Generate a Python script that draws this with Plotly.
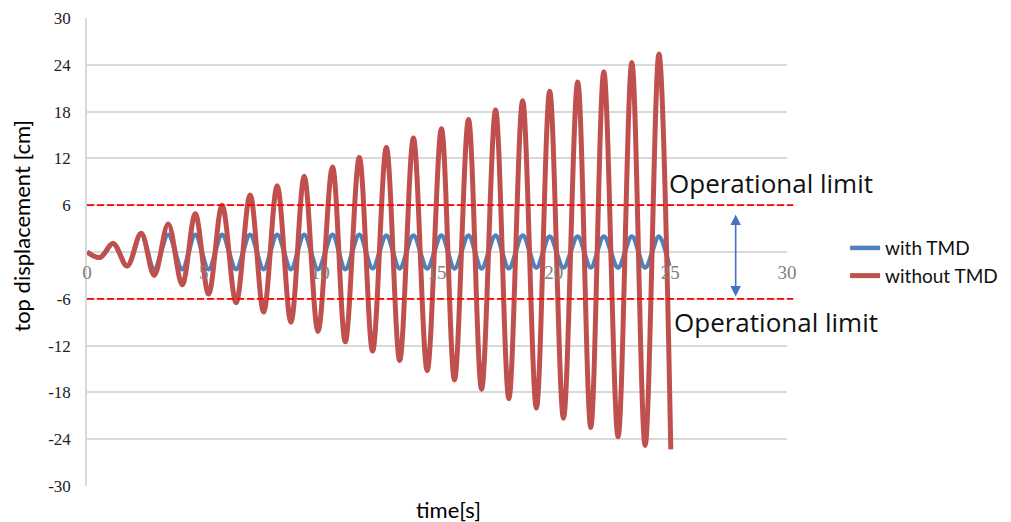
import plotly.graph_objects as go

# ---- data ----
time_s = [0.00, 0.56, 1.12, 1.72, 2.32, 2.88, 3.48, 4.08, 4.64, 5.21, 5.79, 6.39,
          6.99, 7.57, 8.15, 8.74, 9.31, 9.90, 10.52, 11.07, 11.67, 12.24, 12.83,
          13.40, 13.99, 14.58, 15.19, 15.75, 16.35, 16.91, 17.51, 18.08, 18.67,
          19.26, 19.83, 20.42, 21.03, 21.59, 22.15, 22.76, 23.35, 23.92, 24.51, 25.02]

without_tmd = [0.0, -0.7, 1.1, -1.8, 2.4, -3.0, 3.6, -4.2, 4.9, -5.4, 6.0, -6.5,
               7.3, -7.7, 8.5, -9.0, 9.7, -10.2, 10.9, -11.5, 12.1, -12.7, 13.4,
               -13.9, 14.6, -15.2, 15.8, -16.4, 17.0, -17.6, 18.2, -18.8, 19.4,
               -20.0, 20.6, -21.3, 21.8, -22.5, 23.1, -23.7, 24.3, -24.8, 25.4, -25.3]

time_tmd = [0.00, 0.56, 1.12, 1.72, 2.32, 2.88, 3.48, 4.08, 4.64, 5.21, 5.79, 6.39,
            6.99, 7.57, 8.15, 8.74, 9.31, 9.90, 10.52, 11.07, 11.67, 12.24, 12.83,
            13.40, 13.99, 14.58, 15.19, 15.75, 16.35, 16.91, 17.51, 18.08, 18.67,
            19.26, 19.83, 20.42, 21.03, 21.59, 22.15, 22.76, 23.35, 23.92, 24.51, 24.95]

with_tmd = [0.0, -0.7, 1.1, -1.8, 2.3, -2.2, 2.2, -2.2, 2.2, -2.2, 2.2, -2.2,
            2.2, -2.2, 2.2, -2.2, 2.2, -2.2, 2.2, -2.2, 2.2, -2.1, 2.1, -2.1,
            2.1, -2.1, 2.1, -2.1, 2.1, -2.1, 2.1, -2.1, 2.1, -2.0, 2.0, -2.0,
            2.0, -2.0, 2.0, -2.0, 2.0, -2.0, 2.0, -1.8]

operational_limit = 6

y_tick_vals = [30, 24, 18, 12, 6, 0, -6, -12, -18, -24, -30]
y_tick_text = ["30", "24", "18", "12", "6", "", "-6", "-12", "-18", "-24", "-30"]
x_tick_vals = [0, 5, 10, 15, 20, 25, 30]
x_tick_text = ["0", "5", "10", "15", "20", "25", "30"]

BLUE = "#4F81BD"
RED = "#C0504D"
SANS = "Lato, Liberation Sans, sans-serif"

fig = go.Figure()
fig.add_trace(go.Scatter(x=time_tmd, y=with_tmd, mode="lines", name="with TMD",
                         line=dict(color=BLUE, width=4.5, shape="spline", smoothing=1.0)))
fig.add_trace(go.Scatter(x=time_s, y=without_tmd, mode="lines", name="without TMD",
                         line=dict(color=RED, width=5, shape="spline", smoothing=1.0)))

# operational limit dashed lines
for lim in (operational_limit, -operational_limit):
    fig.add_shape(type="line", xref="paper", yref="y", x0=0, x1=1.009, y0=lim, y1=lim,
                  line=dict(color="#FF0000", width=1.8, dash="7px,3px"), layer="above")

# double arrow between the limits
fig.add_annotation(x=27.8, y=-5.7, ax=27.8, ay=5.0, xref="x", yref="y", axref="x", ayref="y",
                   text="", showarrow=True, arrowhead=2, arrowside="end+start",
                   arrowsize=1.3, arrowwidth=1.6, arrowcolor="#4472C4")

label_font = dict(family="Open Sans, Lato, sans-serif", size=26, color="#111111")
fig.add_annotation(x=24.85, y=8.85, xref="x", yref="y", text="Operational limit",
                   showarrow=False, xanchor="left", yanchor="middle", font=label_font)
fig.add_annotation(x=25.05, y=-8.97, xref="x", yref="y", text="Operational limit",
                   showarrow=False, xanchor="left", yanchor="middle", font=label_font)

title_font = dict(family=SANS, size=22, color="#000000")
fig.add_annotation(x=0.516, y=-0.051, xref="paper", yref="paper", text="time[s]",
                   showarrow=False, xanchor="center", yanchor="middle", font=title_font)
fig.add_annotation(x=-0.093, y=0.556, xref="paper", yref="paper", text="top displacement [cm]",
                   showarrow=False, xanchor="center", yanchor="middle", textangle=-90,
                   font=title_font)

# the page adds an 8px body margin, so the plot area is placed 8px up/left
fig.update_layout(
    width=1011, height=522,
    margin=dict(l=79, r=232, t=10, b=44, autoexpand=False),
    paper_bgcolor="white", plot_bgcolor="white",
    showlegend=True,
    legend=dict(x=1.083, y=0.549, xanchor="left", yanchor="top",
                font=dict(family=SANS, size=19, color="#111111"),
                bgcolor="rgba(0,0,0,0)", tracegroupgap=0),
    xaxis=dict(range=[0, 30], anchor="free", position=0.5, showgrid=False, zeroline=False,
               showline=False, tickvals=x_tick_vals, ticktext=x_tick_text, ticks="",
               ticklabelstandoff=7, layer="above traces",
               tickfont=dict(family="Liberation Serif, serif", size=19, color="#808080"),
               automargin=False),
    yaxis=dict(range=[-30, 30], tickvals=y_tick_vals, ticktext=y_tick_text,
               showgrid=True, gridcolor="#D9D9D9", gridwidth=1.5, zeroline=False,
               showline=True, linecolor="#D9D9D9", linewidth=1.5, ticks="",
               ticklabelstandoff=11,
               tickfont=dict(family="Liberation Serif, serif", size=17, color="#222222"),
               automargin=False),
)

fig.write_html("out.html")
